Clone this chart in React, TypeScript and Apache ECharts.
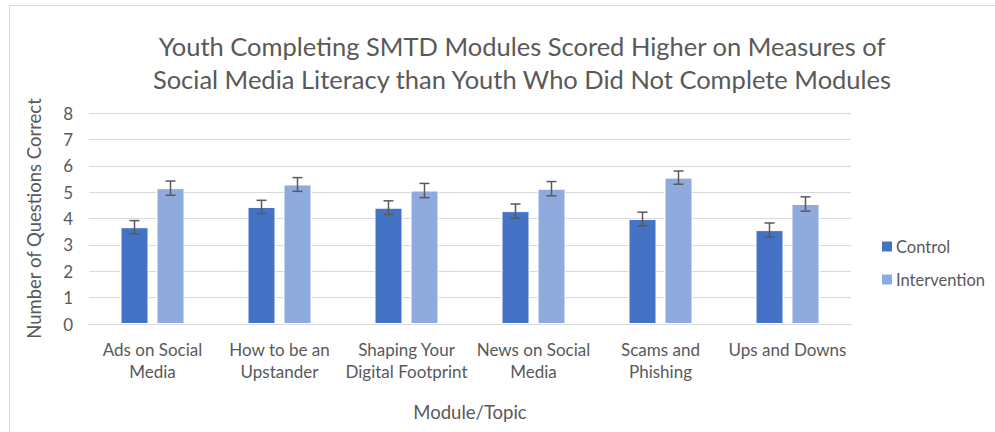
import React, { useEffect, useRef } from "react";
import * as echarts from "echarts";

const categories = [
  "Ads on Social\nMedia",
  "How to be an\nUpstander",
  "Shaping Your\nDigital Footprint",
  "News on Social\nMedia",
  "Scams and\nPhishing",
  "Ups and Downs",
];
const controlValues = [3.67, 4.44, 4.41, 4.28, 3.98, 3.56];
const interventionValues = [5.15, 5.29, 5.06, 5.13, 5.55, 4.55];
const controlErr = [0.25, 0.25, 0.26, 0.27, 0.26, 0.27];
const interventionErr = [0.27, 0.26, 0.27, 0.27, 0.25, 0.27];
const yTicks = [0, 1, 2, 3, 4, 5, 6, 7, 8];

const FONT = "Lato";
const TEXT = "#595959";
const BAR_W = 28;
const GAP = 8;

function errorSeries(name: string, values: number[], errs: number[], side: number) {
  const data = values.map((v, i) => [i, v - errs[i], v + errs[i]]);
  return {
    type: "custom",
    name: name + " err",
    silent: true,
    z: 10,
    renderItem: (params: any, api: any) => {
      const i = api.value(0);
      const lo = api.coord([i, api.value(1)]);
      const hi = api.coord([i, api.value(2)]);
      const x = lo[0] + side * (BAR_W + GAP) / 2;
      const cap = 5;
      const style = { stroke: "#595959", lineWidth: 1.5 };
      return {
        type: "group",
        children: [
          { type: "line", shape: { x1: x, y1: hi[1], x2: x, y2: lo[1] }, style },
          { type: "line", shape: { x1: x - cap, y1: hi[1], x2: x + cap, y2: hi[1] }, style },
          { type: "line", shape: { x1: x - cap, y1: lo[1], x2: x + cap, y2: lo[1] }, style },
        ],
      };
    },
    data,
    encode: { x: 0, y: [1, 2] },
  };
}

export default function App() {
  const ref = useRef<HTMLDivElement>(null);
  useEffect(() => {
    if (!ref.current) return;
    const chart = echarts.init(ref.current, null, { renderer: "svg" });
    chart.setOption({
      animation: false,
      backgroundColor: "#ffffff",
      textStyle: { fontFamily: FONT, color: TEXT },
      title: {
        text: "Youth Completing SMTD Modules Scored Higher on Measures of\nSocial Media Literacy than Youth Who Did Not Complete Modules",
        left: 517,
        textAlign: "center",
        top: 24,
        textStyle: { fontFamily: FONT, fontSize: 25.5, fontWeight: "normal", color: TEXT, lineHeight: 33 },
      },
      graphic: [
        {
          type: "rect",
          shape: { x: 9.5, y: 5.5, width: 1000, height: 500 },
          style: { fill: "none", stroke: "#d9d9d9", lineWidth: 1 },
          silent: true,
        },
      ],
      legend: {
        orient: "vertical",
        left: 877,
        top: 233,
        itemWidth: 10,
        itemHeight: 10,
        itemGap: 16,
        itemStyle: { borderWidth: 0 },
        icon: "rect",
        textStyle: { fontFamily: FONT, fontSize: 16.5, color: TEXT, padding: [0, 0, 0, -1] },
        data: ["Control", "Intervention"],
      },
      grid: { left: 89, right: 144, top: 113, bottom: 108 },
      xAxis: {
        type: "category",
        data: categories,
        name: "Module/Topic",
        nameLocation: "middle",
        nameGap: 78,
        nameTextStyle: { fontFamily: FONT, fontSize: 18.5, color: TEXT },
        axisLine: { lineStyle: { color: "#d9d9d9" } },
        axisTick: { show: false },
        axisLabel: { interval: 0, fontFamily: FONT, fontSize: 17, color: TEXT, lineHeight: 22, margin: 14 },
      },
      yAxis: {
        type: "value",
        min: yTicks[0],
        max: yTicks[yTicks.length - 1],
        interval: 1,
        name: "Number of Questions Correct",
        nameLocation: "middle",
        nameGap: 46,
        nameTextStyle: { fontFamily: FONT, fontSize: 18.5, color: TEXT },
        axisLine: { show: false },
        axisTick: { show: false },
        axisLabel: { fontFamily: FONT, fontSize: 17, color: TEXT, margin: 16 },
        splitLine: { lineStyle: { color: "#d9d9d9", width: 1 } },
      },
      series: [
        {
          type: "bar",
          name: "Control",
          data: controlValues,
          barWidth: BAR_W,
          barGap: (GAP / BAR_W) * 100 + "%",
          itemStyle: { color: "#4472C4", borderColor: "#ffffff", borderWidth: 1 },
        },
        {
          type: "bar",
          name: "Intervention",
          data: interventionValues,
          barWidth: BAR_W,
          barGap: (GAP / BAR_W) * 100 + "%",
          itemStyle: { color: "#8FAADC", borderColor: "#ffffff", borderWidth: 1 },
        },
        errorSeries("Control", controlValues, controlErr, -1),
        errorSeries("Intervention", interventionValues, interventionErr, 1),
      ],
    });
    return () => chart.dispose();
  }, []);
  return <div ref={ref} style={{ width: 995, height: 432, position: "absolute", left: 0, top: 0 }} />;
}
